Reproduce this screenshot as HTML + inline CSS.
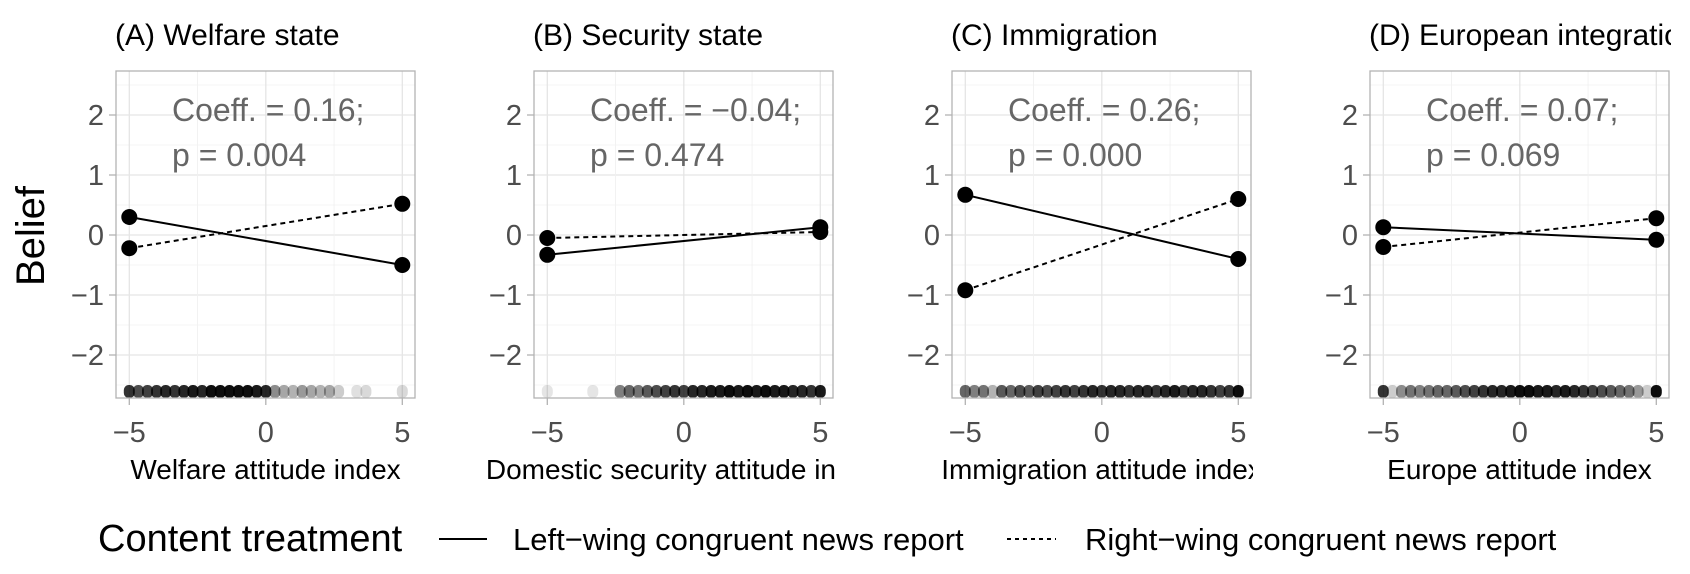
<!DOCTYPE html>
<html><head><meta charset="utf-8"><style>
body{margin:0;background:#fff;}
svg{display:block;font-family:"Liberation Sans",sans-serif;}
</style></head><body>
<svg id="chart" width="1690" height="574" viewBox="0 0 1690 574" xmlns="http://www.w3.org/2000/svg">
<text transform="translate(44,236) rotate(-90)" text-anchor="middle" font-size="40" fill="#000">Belief</text>
<g id="panels"></g>
<g>
<text x="98" y="551" font-size="38" fill="#000">Content treatment</text>
<line x1="439" y1="539" x2="487" y2="539" stroke="#000" stroke-width="2"/>
<text x="513" y="550" font-size="31" fill="#000">Left−wing congruent news report</text>
<line x1="1007" y1="539" x2="1056" y2="539" stroke="#000" stroke-width="2" stroke-dasharray="4,4"/>
<text x="1085" y="550" font-size="31" fill="#000">Right−wing congruent news report</text>
</g>
</svg>
<script>
const titles=["(A) Welfare state","(B) Security state","(C) Immigration","(D) European integration"];
const xTitles=["Welfare attitude index","Domestic security attitude index","Immigration attitude index","Europe attitude index"];
const coeffs=["Coeff. = 0.16;","Coeff. = −0.04;","Coeff. = 0.26;","Coeff. = 0.07;"];
const pvals=["p = 0.004","p = 0.474","p = 0.000","p = 0.069"];
const xPoints=[-5,5];
const leftWing=[[0.30,-0.50],[-0.33,0.13],[0.67,-0.40],[0.13,-0.08]];
const rightWing=[[-0.22,0.52],[-0.05,0.05],[-0.92,0.60],[-0.20,0.28]];
const xTicks=[-5,0,5];
const yTicks=[-2,-1,0,1,2];
// rug density (opacity) at x = -5 + i/3, i=0..30
const rugA=[0.8,0.7,0.75,0.8,0.85,0.8,0.85,0.9,0.85,0.95,0.95,0.95,0.95,0.95,0.9,0.85,0.45,0.35,0.3,0.4,0.35,0.3,0.35,0.2,0,0.12,0.15,0,0,0,0.15];
const rugB=[0.1,0,0,0,0,0.1,0,0,0.5,0.6,0.55,0.65,0.7,0.75,0.8,0.75,0.85,0.85,0.9,0.9,0.95,0.9,0.95,0.9,0.95,0.9,0.9,0.85,0.85,0.8,0.9];
const rugC=[0.6,0.5,0.55,0.3,0.65,0.6,0.7,0.65,0.75,0.7,0.75,0.8,0.75,0.8,0.85,0.8,0.85,0.85,0.8,0.85,0.85,0.8,0.85,0.9,0.8,0.85,0.85,0.8,0.75,0.8,0.95];
const rugD=[0.8,0.2,0.45,0.55,0.5,0.55,0.6,0.6,0.65,0.7,0.75,0.8,0.85,0.85,0.9,0.95,0.95,0.9,0.9,0.85,0.9,0.85,0.8,0.75,0.7,0.65,0.6,0.55,0.4,0.2,0.95];
const rugs=[rugA,rugB,rugC,rugD];

const NS="http://www.w3.org/2000/svg";
const root=document.getElementById('panels');
function mk(tag,attrs,parent){const e=document.createElementNS(NS,tag);for(const k in attrs)e.setAttribute(k,attrs[k]);parent.appendChild(e);return e;}
const PW=299,PTOP=71,PBOT=398;
for(let p=0;p<4;p++){
  const L=116+p*418,R=L+PW;
  const sx=v=>L+13.3+(v+5)*27.3;
  const sy=v=>235-v*60;
  const g=mk('g',{},root);
  
  
  const cp=mk('clipPath',{id:'clip'+p},g);
  mk('rect',{x:0,y:0,width:R+2,height:574},cp);
  const t=mk('text',{x:L-1,y:45,'font-size':30,fill:'#000','clip-path':'url(#clip'+p+')'},g);
  t.textContent=titles[p];
  
  
  for(let v=-2.5;v<=2.51;v+=0.5){const y=sy(v);if(y<PTOP||y>PBOT)continue;
    const major=Math.abs(v-Math.round(v))<1e-6;
    const gl=mk('line',{x1:L,x2:R,y1:y,y2:y,stroke:major?'#e5e5e5':'#f0f0f0','stroke-width':major?1.3:0.8},g);
    
    }
  for(const v of [-5,-2.5,0,2.5,5]){const x=sx(v);const major=v%5===0;
    const gl=mk('line',{x1:x,x2:x,y1:PTOP,y2:PBOT,stroke:major?'#e5e5e5':'#f0f0f0','stroke-width':major?1.3:0.8},g);
    
    }
  rugs[p].forEach((a,i)=>{if(a<=0)return;const x=sx(-5+i/3);
    const r=mk('rect',{x:x-5.5,y:385,width:11,height:13,rx:5,fill:'#000','fill-opacity':a},g);
    
    });
  const fr=mk('rect',{x:L,y:PTOP,width:PW,height:PBOT-PTOP,fill:'none',stroke:'#b3b3b3','stroke-width':1.3},g);
  
  
  yTicks.forEach(v=>{const y=sy(v);
    mk('line',{x1:L-7,x2:L,y1:y,y2:y,stroke:'#b3b3b3','stroke-width':1.3},g);
    const tt=mk('text',{x:L-12,y:y+10,'text-anchor':'end','font-size':29,fill:'#4d4d4d'},g);
    tt.textContent=v<0?'−'+(-v):String(v);
    
    });
  xTicks.forEach(v=>{const x=sx(v);
    mk('line',{x1:x,x2:x,y1:PBOT,y2:PBOT+7,stroke:'#b3b3b3','stroke-width':1.3},g);
    const tt=mk('text',{x:x,y:442,'text-anchor':'middle','font-size':29,fill:'#4d4d4d'},g);
    tt.textContent=v<0?'−'+(-v):String(v);
    
    });
  const xt=mk('text',{x:(L+R)/2,y:479,'text-anchor':'middle','font-size':28,fill:'#000','clip-path':'url(#clip'+p+')'},g);
  xt.textContent=xTitles[p];
  
  
  const c1=mk('text',{x:L+56,y:121,'font-size':32,fill:'#666'},g);
  c1.textContent=coeffs[p];
  
  
  const c2=mk('text',{x:L+56,y:166,'font-size':32,fill:'#666'},g);
  c2.textContent=pvals[p];
  
  
  [[leftWing,'none','left'],[rightWing,'5,4','right']].forEach(([ser,dash,nm])=>{
    const vals=ser[p];
    const ln=mk('line',{x1:sx(xPoints[0]),y1:sy(vals[0]),x2:sx(xPoints[1]),y2:sy(vals[1]),stroke:'#000','stroke-width':2,'stroke-dasharray':dash},g);
    
    
    vals.forEach((v,i)=>{const c=mk('circle',{cx:sx(xPoints[i]),cy:sy(v),r:8,fill:'#000'},g);
      
      });
  });
}
</script>
</body></html>
